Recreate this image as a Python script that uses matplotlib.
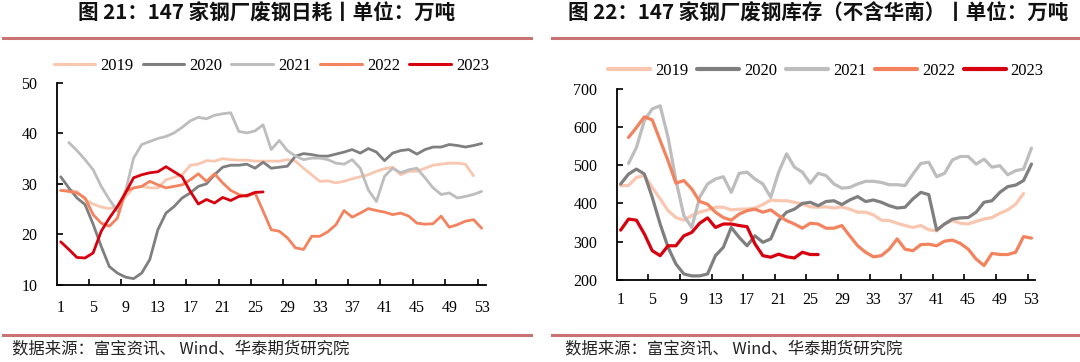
import numpy as np
import matplotlib
matplotlib.use("Agg")
import matplotlib.pyplot as plt
from matplotlib.lines import Line2D

# ---------------- data ----------------
years = ["2019", "2020", "2021", "2022", "2023"]
colors = ["#F9C6B0", "#7F7F7F", "#BDBDBD", "#F3835E", "#D7000F"]

xtick_labels = [str(w) for w in range(1, 54, 4)]

# Figure 21: daily scrap consumption (10k t)
c2019 = [28.7, 28.7, 28.5, 26.9, 26.0, 25.4, 25.1, 25.5, 27.5, 29.2, 29.5, 29.2, 29.2,
         30.8, 31.3, 31.8, 33.7, 33.9, 34.6, 34.5, 35.0, 34.8, 34.7, 34.7, 34.5, 34.5,
         34.5, 34.5, 34.8, 34.5, 33.1, 31.8, 30.5, 30.6, 30.2, 30.5, 31.0, 31.4, 31.8,
         32.5, 33.0, 33.3, 31.8, 32.5, 32.5, 33.1, 33.7, 33.9, 34.1, 34.1, 33.9, 31.6]
c2020 = [31.4, 29.2, 27.2, 25.9, 22.0, 17.6, 13.6, 12.3, 11.5, 11.2, 12.3, 15.0, 20.9,
         24.2, 25.5, 27.2, 28.2, 29.5, 30.0, 31.8, 33.3, 33.7, 33.7, 33.9, 33.1, 34.3,
         33.1, 33.3, 33.5, 35.5, 36.0, 35.8, 35.5, 35.5, 35.9, 36.3, 36.8, 36.1, 37.0,
         36.3, 34.6, 36.1, 36.6, 36.8, 35.9, 36.8, 37.3, 37.3, 37.8, 37.6, 37.3, 37.6, 38.0]
c2021 = [None, 38.2, 36.6, 34.8, 32.8, 29.5, 26.9, 24.6, 28.5, 35.1, 37.8, 38.4, 39.0,
         39.4, 40.1, 41.2, 42.5, 43.2, 42.9, 43.6, 43.9, 44.1, 40.4, 40.1, 40.5, 41.7,
         36.8, 38.6, 36.6, 35.5, 34.8, 35.1, 35.1, 34.8, 34.1, 33.9, 34.8, 33.1, 28.8,
         26.5, 31.5, 33.1, 32.2, 32.8, 33.1, 31.2, 29.2, 27.9, 28.2, 27.2, 27.5, 27.9, 28.5]
c2022 = [28.7, 28.5, 28.2, 27.2, 23.9, 22.2, 21.6, 23.2, 28.5, 29.2, 29.5, 30.5, 29.8,
         29.2, 29.5, 29.8, 30.8, 32.0, 30.5, 32.0, 30.2, 28.7, 27.9, 27.5, 28.2, 24.6,
         20.9, 20.6, 19.3, 17.3, 17.0, 19.6, 19.6, 20.5, 21.9, 24.7, 23.4, 24.2, 25.1,
         24.7, 24.4, 23.9, 24.2, 23.6, 22.2, 22.0, 22.1, 23.6, 21.4, 21.9, 22.6, 22.9, 21.2]
c2023 = [18.5, 17.0, 15.4, 15.3, 16.3, 20.6, 23.2, 25.5, 28.2, 31.2, 31.8, 32.2, 32.4,
         33.4, 32.4, 31.4, 28.5, 26.0, 26.9, 26.2, 27.3, 26.7, 27.5, 27.7, 28.3, 28.4]

# Figure 22: scrap inventory excl. South China (10k t)
s2019 = [447, 447, 468, 473, 442, 412, 381, 363, 356, 368, 377, 383, 390, 390, 383, 385,
         385, 388, 397, 409, 407, 407, 403, 398, 391, 390, 391, 388, 391, 385, 377, 377,
         370, 356, 355, 348, 342, 337, 342, 331, 328, 346, 355, 348, 346, 353, 359, 363,
         374, 383, 398, 426]
s2020 = [451, 477, 490, 477, 416, 346, 285, 241, 215, 210, 210, 215, 263, 285, 337, 311,
         289, 315, 298, 307, 355, 377, 385, 400, 403, 394, 405, 407, 397, 409, 418, 405,
         409, 403, 394, 388, 390, 412, 429, 423, 330, 346, 359, 362, 363, 377, 403, 407,
         429, 444, 448, 460, 503]
s2021 = [None, 505, 547, 617, 648, 656, 573, 460, 368, 337, 416, 451, 464, 470, 429, 479,
         482, 464, 451, 416, 482, 530, 495, 482, 453, 479, 473, 451, 440, 442, 451, 458,
         458, 455, 449, 449, 447, 477, 505, 508, 470, 479, 514, 523, 523, 503, 516, 495,
         499, 475, 486, 490, 545]
s2022 = [None, 573, 599, 627, 619, 565, 512, 453, 460, 438, 405, 398, 377, 363, 356, 372,
         381, 385, 377, 383, 368, 355, 346, 335, 348, 346, 335, 335, 342, 315, 289, 272,
         260, 263, 280, 307, 280, 276, 292, 293, 289, 301, 304, 295, 280, 254, 237, 269,
         266, 266, 272, 313, 309]
s2023 = [330, 359, 356, 320, 276, 263, 289, 289, 315, 324, 348, 362, 337, 346, 346, 342,
         339, 294, 263, 259, 267, 260, 257, 272, 266, 266]

title_left = "图 21：147 家钢厂废钢日耗丨单位：万吨"
title_right = "图 22：147 家钢厂废钢库存（不含华南）丨单位：万吨"
source_text = "数据来源：富宝资讯、 Wind、华泰期货研究院"

# ---------------- figure ----------------
W, H = 1080, 362
fig = plt.figure(figsize=(W / 100, H / 100), dpi=100)

cjk = ["Noto Sans CJK SC", "DejaVu Sans"]
serif = "Liberation Serif"
rule_color = "#C97373"


def to_arr(v):
    return np.array([np.nan if x is None else x for x in v], dtype=float)


def make_axes(rect, series, ylim, ystep, lw, leg_y, leg_lw, xpad):
    ax = fig.add_axes(rect)
    for name, vals, col in zip(years, series, colors):
        y = to_arr(vals)
        x = np.arange(1, len(y) + 1)
        ax.plot(x, y, color=col, lw=lw, label=name, solid_joinstyle="round",
                solid_capstyle="round")
    ax.set_xlim(0.5, 53.5)
    ax.set_ylim(*ylim)
    ax.set_yticks(np.arange(ylim[0], ylim[1] + 1, ystep))
    ax.tick_params(axis="y", direction="in", length=4, width=1.2, pad=14,
                   labelsize=11.5)
    # tick marks at category boundaries, labels at category centres
    ax.set_xticks(np.arange(4.5, 53, 4))
    ax.set_xticklabels([])
    ax.set_xticks(np.arange(1, 54, 4), minor=True)
    ax.set_xticklabels(xtick_labels, minor=True)
    ax.tick_params(axis="x", which="major", direction="in", length=4, width=1.2)
    ax.tick_params(axis="x", which="minor", length=0, pad=xpad, labelsize=11.5)
    for lab in ax.get_xticklabels(minor=True) + ax.get_yticklabels():
        lab.set_fontfamily(serif)
    for s in ["top", "right"]:
        ax.spines[s].set_visible(False)
    for s in ["left", "bottom"]:
        ax.spines[s].set_linewidth(1.3)
        ax.spines[s].set_color("black")
    leg = ax.legend(loc="center", bbox_to_anchor=(0.5, leg_y), ncol=5, frameon=False,
                    prop={"family": serif, "size": 12}, handlelength=2.5,
                    handletextpad=0.3, columnspacing=0.55, borderaxespad=0)
    for h in leg.get_lines():
        h.set_linewidth(leg_lw)
    return ax


# left panel
axL = make_axes([56.7 / W, 1 - 284.7 / H, 429 / W, 201.7 / H],
                [c2019, c2020, c2021, c2022, c2023], (10, 50), 10, 2.0,
                1.085, 2.2, 11)
# right panel
axR = make_axes([616.7 / W, 1 - 279.7 / H, 418.7 / W, 190.7 / H],
                [s2019, s2020, s2021, s2022, s2023], (200, 700), 100, 2.3,
                1.095, 3.0, 9)

# titles
fig.text(267 / W, 1 - 13 / H, title_left, ha="center", va="center",
         family=cjk, fontsize=14.8, fontweight="bold", color="#111111")
fig.text(818 / W, 1 - 13 / H, title_right, ha="center", va="center",
         family=cjk, fontsize=14.8, fontweight="bold", color="#111111")

# header / footer rules
for (x0, x1) in [(3, 531), (552, 1080)]:
    fig.add_artist(Line2D([x0 / W, x1 / W], [1 - 38 / H, 1 - 38 / H],
                          color=rule_color, lw=2.2, transform=fig.transFigure))
    fig.add_artist(Line2D([x0 / W, x1 / W], [1 - 335 / H, 1 - 335 / H],
                          color=rule_color, lw=2.2, transform=fig.transFigure))

# sources
fig.text(12 / W, 1 - 349 / H, source_text, ha="left", va="center",
         family=cjk, fontsize=11.8, color="#222222")
fig.text(565 / W, 1 - 349 / H, source_text, ha="left", va="center",
         family=cjk, fontsize=11.8, color="#222222")

fig.savefig("out.png", dpi=100)
